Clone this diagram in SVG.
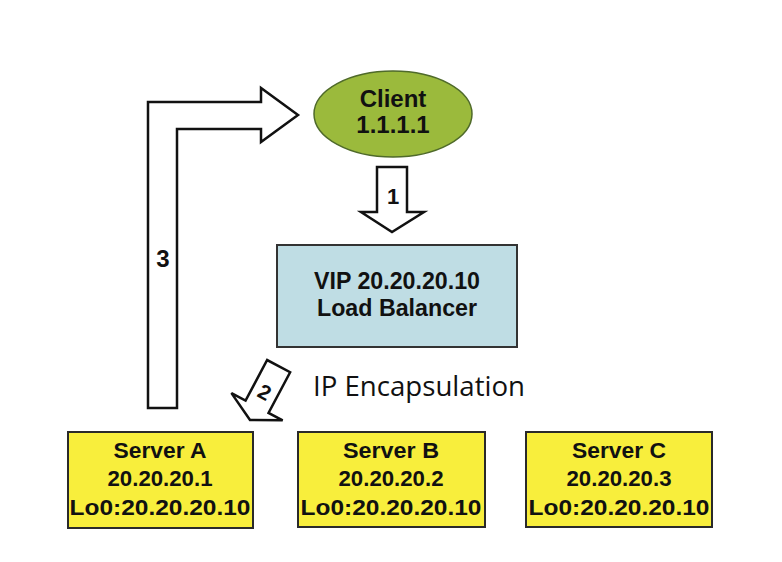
<svg xmlns="http://www.w3.org/2000/svg" width="782" height="562" viewBox="0 0 782 562">
<style>
.t{font-family:"Liberation Sans",Arial,sans-serif;font-weight:bold;fill:#111;text-anchor:middle}
.arr{fill:#fff;stroke:#111;stroke-width:2.5;stroke-linejoin:miter}
.srv{fill:#f8ee3c;stroke:#2a2a2a;stroke-width:2}
</style>
<rect width="782" height="562" fill="#fff"/>
<g id="connectors">
  <g id="arrow3">
    <polygon class="arr" points="148,408 148,102 261,102 261,88 298,115 261,142 261,129 177,129 177,408"/>
    <text class="t" x="163" y="267" font-size="24" font-weight="normal">3</text>
  </g>
  <g id="arrow1">
    <polygon class="arr" points="377,167 407,167 407,212 424,212 392,232 361,212 377,212"/>
    <text class="t" x="393" y="204" font-size="22">1</text>
  </g>
  <g id="arrow2" transform="translate(250,420) rotate(28)">
    <polygon class="arr" points="0,0 29,-15 13,-15 13,-61 -13,-61 -13,-15 -29,-15"/>
    <text class="t" x="0" y="-24" font-size="21">2</text>
  </g>
</g>
<g id="client">
  <ellipse cx="393" cy="114" rx="79" ry="43" fill="#9bba3c" stroke="#4f6a2a" stroke-width="1.5"/>
  <text class="t" x="393" y="107" font-size="24">Client</text>
  <text class="t" x="393" y="133" font-size="24">1.1.1.1</text>
</g>
<g id="lb">
  <rect x="277" y="245" width="240" height="102" fill="#bfdde4" stroke="#333" stroke-width="2"/>
  <text class="t" x="397" y="289" font-size="24" textLength="166" lengthAdjust="spacingAndGlyphs">VIP 20.20.20.10</text>
  <text class="t" x="397" y="316" font-size="24" textLength="160" lengthAdjust="spacingAndGlyphs">Load Balancer</text>
</g>
<g id="label-encap">
  <text x="313" y="396" font-family="'Open Sans','Noto Sans',sans-serif" font-size="28" fill="#111" textLength="212" lengthAdjust="spacingAndGlyphs">IP Encapsulation</text>
</g>
<g id="serverA">
  <rect class="srv" x="68" y="432" width="185" height="96"/>
  <text class="t" x="160" y="458" font-size="22" textLength="93" lengthAdjust="spacingAndGlyphs">Server A</text>
  <text class="t" x="160" y="486" font-size="22" textLength="105" lengthAdjust="spacingAndGlyphs">20.20.20.1</text>
  <text class="t" x="160" y="515" font-size="22" textLength="181" lengthAdjust="spacingAndGlyphs">Lo0:20.20.20.10</text>
</g>
<g id="serverB">
  <rect class="srv" x="298" y="432" width="187" height="95"/>
  <text class="t" x="391" y="458" font-size="22" textLength="96" lengthAdjust="spacingAndGlyphs">Server B</text>
  <text class="t" x="391" y="486" font-size="22" textLength="105" lengthAdjust="spacingAndGlyphs">20.20.20.2</text>
  <text class="t" x="391" y="515" font-size="22" textLength="181" lengthAdjust="spacingAndGlyphs">Lo0:20.20.20.10</text>
</g>
<g id="serverC">
  <rect class="srv" x="526" y="432" width="186" height="95"/>
  <text class="t" x="619" y="458" font-size="22" textLength="94" lengthAdjust="spacingAndGlyphs">Server C</text>
  <text class="t" x="619" y="486" font-size="22" textLength="105" lengthAdjust="spacingAndGlyphs">20.20.20.3</text>
  <text class="t" x="619" y="515" font-size="22" textLength="181" lengthAdjust="spacingAndGlyphs">Lo0:20.20.20.10</text>
</g>
</svg>
